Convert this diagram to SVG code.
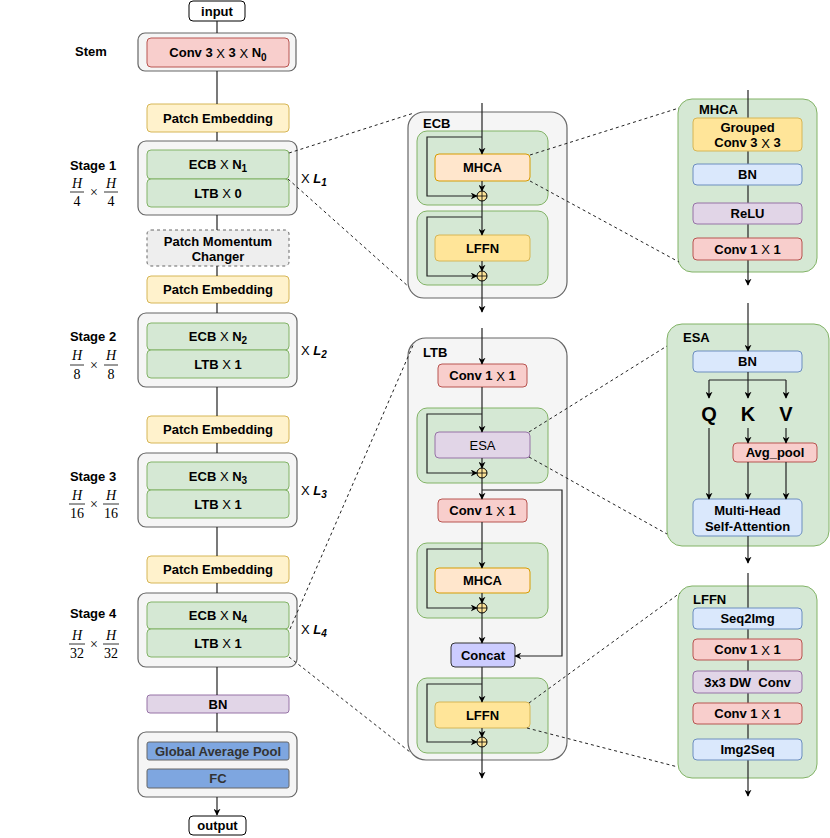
<svg xmlns="http://www.w3.org/2000/svg" width="830" height="838" viewBox="0 0 830 838">
<defs>
<marker id="arr" viewBox="0 0 10 10" refX="9" refY="5" markerWidth="7" markerHeight="7" orient="auto" markerUnits="userSpaceOnUse">
<path d="M0,0 L10,5 L0,10 L3,5 z" fill="#000"/>
</marker>
<style>
text{font-family:"Liberation Sans",Arial,sans-serif;font-size:13px;font-weight:bold;fill:#000;dominant-baseline:central}
.c{text-anchor:middle}
.n{font-weight:normal}
.sub{font-size:10px}
.big{font-size:20px}
.it{font-style:italic}
.outer{fill:#f5f5f5;stroke:#666;stroke-width:1.2}
.green{fill:#d5e8d4;stroke:#82b366;stroke-width:1}
.red{fill:#f8cecc;stroke:#b85450;stroke-width:1}
.pe{fill:#fff2cc;stroke:#d6b656;stroke-width:1}
.yel{fill:#ffe599;stroke:#d6b656;stroke-width:1}
.pur{fill:#e1d5e7;stroke:#9673a6;stroke-width:1}
.blu{fill:#dae8fc;stroke:#6c8ebf;stroke-width:1}
.dblu{fill:#7ea6e0;stroke:#666;stroke-width:1}
.org{fill:#ffe6cc;stroke:#d79b00;stroke-width:1}
.wht{fill:#fff;stroke:#000;stroke-width:1}
.ln{fill:none;stroke:#222;stroke-width:1.2}
.dash{fill:none;stroke:#222;stroke-width:1;stroke-dasharray:3,3}
.fr{font-family:"Liberation Serif","Times New Roman",serif;font-weight:normal;font-size:14px}
.bar{stroke:#000;stroke-width:0.8}
.plus{fill:#ffe599;stroke:#000;stroke-width:1}
</style>
</defs>

<!-- left column -->
<g id="input"><rect class="wht" x="189" y="1" width="56" height="20" rx="4"/><text class="c" x="217" y="11">input</text></g>
<g id="stem">
<rect class="outer" x="138" y="33" width="158" height="38" rx="7"/>
<rect class="red" x="147" y="38" width="142" height="29" rx="4"/>
<text class="c" x="218" y="52.5">Conv 3 <tspan class="n">X</tspan> 3 <tspan class="n">X</tspan> N<tspan class="sub" dy="4">0</tspan></text>
<text class="c" x="91" y="51">Stem</text>
</g>
<g id="pe1"><rect class="pe" x="147" y="104" width="142" height="28" rx="4"/><text class="c" x="218" y="118">Patch Embedding</text></g>
<g id="stage1">
<rect class="outer" x="138" y="141" width="159" height="74" rx="8"/>
<rect class="green" x="147" y="150" width="142" height="29" rx="4"/>
<rect class="green" x="147" y="179" width="142" height="28" rx="4"/>
<text class="c" x="218" y="164">ECB <tspan class="n">X</tspan> N<tspan class="sub" dy="4">1</tspan></text>
<text class="c" x="218" y="193">LTB <tspan class="n">X</tspan> 0</text>
<text class="c" x="93" y="165">Stage 1</text>
<text class="c fr it" x="77" y="183">H</text><line class="bar" x1="70" y1="192" x2="84" y2="192"/><text class="c fr" x="77" y="201">4</text>
<text class="c fr" x="94" y="192">×</text>
<text class="c fr it" x="111" y="183">H</text><line class="bar" x1="104" y1="192" x2="118" y2="192"/><text class="c fr" x="111" y="201">4</text>
<text x="301" y="178"><tspan class="n">X</tspan> <tspan class="it">L</tspan><tspan class="it sub" dy="4">1</tspan></text>
</g>
<g id="pmc"><rect x="147" y="230" width="142" height="36" rx="4" fill="#eeeeee" stroke="#666" stroke-dasharray="3,3"/><text class="c" x="218" y="241">Patch Momentum</text><text class="c" x="218" y="256">Changer</text></g>
<g id="pe2"><rect class="pe" x="147" y="276" width="142" height="27" rx="4"/><text class="c" x="218" y="289.5">Patch Embedding</text></g>
<g id="stage2">
<rect class="outer" x="138" y="313" width="159" height="74" rx="8"/>
<rect class="green" x="147" y="323" width="142" height="27" rx="4"/>
<rect class="green" x="147" y="350" width="142" height="28" rx="4"/>
<text class="c" x="218" y="336">ECB <tspan class="n">X</tspan> N<tspan class="sub" dy="4">2</tspan></text>
<text class="c" x="218" y="364">LTB <tspan class="n">X</tspan> 1</text>
<text class="c" x="93" y="336">Stage 2</text>
<text class="c fr it" x="77" y="355">H</text><line class="bar" x1="70" y1="365" x2="84" y2="365"/><text class="c fr" x="77" y="374">8</text>
<text class="c fr" x="94" y="365">×</text>
<text class="c fr it" x="111" y="355">H</text><line class="bar" x1="104" y1="365" x2="118" y2="365"/><text class="c fr" x="111" y="374">8</text>
<text x="301" y="350"><tspan class="n">X</tspan> <tspan class="it">L</tspan><tspan class="it sub" dy="4">2</tspan></text>
</g>
<g id="pe3"><rect class="pe" x="147" y="416" width="142" height="27" rx="4"/><text class="c" x="218" y="429.5">Patch Embedding</text></g>
<g id="stage3">
<rect class="outer" x="138" y="453" width="159" height="74" rx="8"/>
<rect class="green" x="147" y="462" width="142" height="28" rx="4"/>
<rect class="green" x="147" y="490" width="142" height="28" rx="4"/>
<text class="c" x="218" y="476">ECB <tspan class="n">X</tspan> N<tspan class="sub" dy="4">3</tspan></text>
<text class="c" x="218" y="504">LTB <tspan class="n">X</tspan> 1</text>
<text class="c" x="93" y="476">Stage 3</text>
<text class="c fr it" x="77" y="495">H</text><line class="bar" x1="69" y1="504" x2="85" y2="504"/><text class="c fr" x="77" y="513">16</text>
<text class="c fr" x="94" y="504">×</text>
<text class="c fr it" x="111" y="495">H</text><line class="bar" x1="103" y1="504" x2="119" y2="504"/><text class="c fr" x="111" y="513">16</text>
<text x="301" y="490"><tspan class="n">X</tspan> <tspan class="it">L</tspan><tspan class="it sub" dy="4">3</tspan></text>
</g>
<g id="pe4"><rect class="pe" x="147" y="556" width="142" height="27" rx="4"/><text class="c" x="218" y="569.5">Patch Embedding</text></g>
<g id="stage4">
<rect class="outer" x="138" y="593" width="159" height="74" rx="8"/>
<rect class="green" x="147" y="602" width="142" height="27" rx="4"/>
<rect class="green" x="147" y="629" width="142" height="28" rx="4"/>
<text class="c" x="218" y="615">ECB <tspan class="n">X</tspan> N<tspan class="sub" dy="4">4</tspan></text>
<text class="c" x="218" y="643">LTB <tspan class="n">X</tspan> 1</text>
<text class="c" x="93" y="613">Stage 4</text>
<text class="c fr it" x="77" y="635">H</text><line class="bar" x1="69" y1="644" x2="85" y2="644"/><text class="c fr" x="77" y="653">32</text>
<text class="c fr" x="94" y="644">×</text>
<text class="c fr it" x="111" y="635">H</text><line class="bar" x1="103" y1="644" x2="119" y2="644"/><text class="c fr" x="111" y="653">32</text>
<text x="301" y="629"><tspan class="n">X</tspan> <tspan class="it">L</tspan><tspan class="it sub" dy="4">4</tspan></text>
</g>
<g id="bn"><rect class="pur" x="147" y="695" width="142" height="18" rx="3"/><text class="c" x="218" y="704">BN</text></g>
<g id="head">
<rect class="outer" x="138" y="732" width="159" height="65" rx="8"/>
<rect class="dblu" x="147" y="742" width="142" height="18" rx="2"/>
<text class="c" x="218" y="751" style="fill:#333">Global Average Pool</text>
<rect class="dblu" x="147" y="769" width="142" height="19" rx="2"/>
<text class="c" x="218" y="778.5" style="fill:#333">FC</text>
</g>
<g id="output"><rect class="wht" x="189" y="816" width="57" height="19" rx="4"/><text class="c" x="217.5" y="825.5">output</text></g>

<!-- ECB -->
<g id="ecb">
<rect class="outer" x="408" y="112" width="159" height="186" rx="16"/>
<text x="423" y="123">ECB</text>
<rect class="green" x="417" y="131" width="131" height="74" rx="10"/>
<rect class="green" x="417" y="211" width="131" height="74" rx="10"/>
<rect class="org" x="435" y="154" width="95" height="27" rx="4"/>
<text class="c" x="482.5" y="167.5">MHCA</text>
<rect class="yel" x="435" y="235" width="95" height="26" rx="4"/>
<text class="c" x="482.5" y="248">LFFN</text>
</g>

<!-- LTB -->
<g id="ltb">
<rect class="outer" x="408" y="338" width="159" height="422" rx="18"/>
<text x="423" y="352">LTB</text>
<rect class="red" x="438" y="364" width="89" height="23" rx="4"/>
<text class="c" x="482.5" y="375.5">Conv 1 <tspan class="n">X</tspan> 1</text>
<rect class="green" x="417" y="408" width="131" height="75" rx="10"/>
<rect class="pur" x="435" y="432" width="95" height="26" rx="4"/>
<text class="c n" x="482.5" y="445">ESA</text>
<rect class="red" x="438" y="499" width="89" height="23" rx="4"/>
<text class="c" x="482.5" y="510.5">Conv 1 <tspan class="n">X</tspan> 1</text>
<rect class="green" x="417" y="543" width="131" height="75" rx="10"/>
<rect class="org" x="435" y="568" width="95" height="25" rx="4"/>
<text class="c" x="482.5" y="580.5">MHCA</text>
<rect x="451" y="643" width="64" height="24" rx="4" fill="#ccccff" stroke="#333" stroke-width="1"/>
<text class="c" x="483" y="655">Concat</text>
<rect class="green" x="417" y="678" width="131" height="75" rx="10"/>
<rect class="yel" x="435" y="702" width="95" height="26" rx="4"/>
<text class="c" x="482.5" y="715">LFFN</text>
</g>

<!-- MHCA detail -->
<g id="mhca">
<rect class="green" x="678" y="99" width="139" height="173" rx="14"/>
<line class="ln" x1="748" y1="99" x2="748" y2="272"/>
<text x="699" y="109">MHCA</text>
<rect class="yel" x="693" y="118" width="109" height="33" rx="4"/>
<text class="c" x="747.5" y="127.5">Grouped</text>
<text class="c" x="747.5" y="142.5">Conv 3 <tspan class="n">X</tspan> 3</text>
<rect class="blu" x="693" y="164" width="109" height="21" rx="4"/>
<text class="c" x="747.5" y="174.5">BN</text>
<rect class="pur" x="693" y="203" width="109" height="21" rx="4"/>
<text class="c" x="747.5" y="213.5">ReLU</text>
<rect class="red" x="693" y="238" width="109" height="22" rx="4"/>
<text class="c" x="747.5" y="249">Conv 1 <tspan class="n">X</tspan> 1</text>
</g>

<!-- ESA detail -->
<g id="esa">
<rect class="green" x="667" y="324" width="162" height="222" rx="15"/>
<text x="683" y="337">ESA</text>
<rect class="blu" x="693" y="351" width="109" height="21" rx="4"/>
<text class="c" x="747.5" y="361.5">BN</text>
<text class="c big" x="709" y="414">Q</text>
<text class="c big" x="748" y="414">K</text>
<text class="c big" x="786" y="414">V</text>
<rect class="red" x="733" y="443" width="84" height="19" rx="4"/>
<text class="c" x="775" y="452.5">Avg_pool</text>
<rect class="blu" x="693" y="499" width="109" height="37" rx="5"/>
<text class="c" x="747.5" y="510">Multi-Head</text>
<text class="c" x="747.5" y="526">Self-Attention</text>
</g>

<!-- LFFN detail -->
<g id="lffn">
<rect class="green" x="678" y="586" width="139" height="192" rx="14"/>
<line class="ln" x1="748" y1="586" x2="748" y2="778"/>
<text x="693" y="599">LFFN</text>
<rect class="blu" x="693" y="608" width="109" height="21" rx="4"/>
<text class="c" x="747.5" y="618.5">Seq2Img</text>
<rect class="red" x="693" y="639" width="109" height="21" rx="4"/>
<text class="c" x="747.5" y="649.5">Conv 1 <tspan class="n">X</tspan> 1</text>
<rect class="pur" x="693" y="671" width="109" height="22" rx="4"/>
<text class="c" x="747.5" y="682" xml:space="preserve">3x3 DW  Conv</text>
<rect class="red" x="693" y="703" width="109" height="21" rx="4"/>
<text class="c" x="747.5" y="713.5">Conv 1 <tspan class="n">X</tspan> 1</text>
<rect class="blu" x="693" y="739" width="109" height="21" rx="4"/>
<text class="c" x="747.5" y="749.5">Img2Seq</text>
</g>

<!-- connectors -->
<g id="connectors">
<!-- left column trunk -->
<path class="ln" d="M217,21 V33 M217,71 V104 M217,132 V141 M217,215 V230 M217,266 V276 M217,303 V313 M217,387 V416 M217,443 V453 M217,527 V556 M217,583 V593 M217,667 V695 M217,713 V732"/>
<line class="ln" x1="217" y1="797" x2="217" y2="815" marker-end="url(#arr)"/>
<!-- ECB internals -->
<line class="ln" x1="482" y1="103" x2="482" y2="154" marker-end="url(#arr)"/>
<line class="ln" x1="482" y1="181" x2="482" y2="191" marker-end="url(#arr)"/>
<polyline class="ln" points="482,137 427,137 427,196 477,196" marker-end="url(#arr)"/>
<line class="ln" x1="482" y1="201" x2="482" y2="235" marker-end="url(#arr)"/>
<polyline class="ln" points="482,217 427,217 427,276 477,276" marker-end="url(#arr)"/>
<line class="ln" x1="482" y1="261" x2="482" y2="271" marker-end="url(#arr)"/>
<line class="ln" x1="482" y1="281" x2="482" y2="312" marker-end="url(#arr)"/>
<!-- LTB internals -->
<line class="ln" x1="482" y1="328" x2="482" y2="364" marker-end="url(#arr)"/>
<line class="ln" x1="482" y1="387" x2="482" y2="432" marker-end="url(#arr)"/>
<polyline class="ln" points="482,414 427,414 427,473 477,473" marker-end="url(#arr)"/>
<line class="ln" x1="482" y1="458" x2="482" y2="468" marker-end="url(#arr)"/>
<line class="ln" x1="482" y1="478" x2="482" y2="499" marker-end="url(#arr)"/>
<polyline class="ln" points="482,490 562,490 562,656 515,656" marker-end="url(#arr)"/>
<line class="ln" x1="482" y1="522" x2="482" y2="568" marker-end="url(#arr)"/>
<polyline class="ln" points="482,549 427,549 427,608 477,608" marker-end="url(#arr)"/>
<line class="ln" x1="482" y1="593" x2="482" y2="603" marker-end="url(#arr)"/>
<line class="ln" x1="482" y1="613" x2="482" y2="643" marker-end="url(#arr)"/>
<line class="ln" x1="482" y1="667" x2="482" y2="702" marker-end="url(#arr)"/>
<polyline class="ln" points="482,684 427,684 427,742 477,742" marker-end="url(#arr)"/>
<line class="ln" x1="482" y1="728" x2="482" y2="737" marker-end="url(#arr)"/>
<line class="ln" x1="482" y1="747" x2="482" y2="778" marker-end="url(#arr)"/>
<!-- right column -->
<line class="ln" x1="748" y1="90" x2="748" y2="99"/>
<line class="ln" x1="748" y1="272" x2="748" y2="285" marker-end="url(#arr)"/>
<line class="ln" x1="748" y1="303" x2="748" y2="351" marker-end="url(#arr)"/>
<line class="ln" x1="748" y1="372" x2="748" y2="380"/>
<line class="ln" x1="709" y1="380" x2="786" y2="380"/>
<line class="ln" x1="709" y1="380" x2="709" y2="398" marker-end="url(#arr)"/>
<line class="ln" x1="748" y1="380" x2="748" y2="398" marker-end="url(#arr)"/>
<line class="ln" x1="786" y1="380" x2="786" y2="398" marker-end="url(#arr)"/>
<line class="ln" x1="709" y1="428" x2="709" y2="499" marker-end="url(#arr)"/>
<line class="ln" x1="748" y1="428" x2="748" y2="443" marker-end="url(#arr)"/>
<line class="ln" x1="786" y1="428" x2="786" y2="443" marker-end="url(#arr)"/>
<line class="ln" x1="748" y1="462" x2="748" y2="499" marker-end="url(#arr)"/>
<line class="ln" x1="786" y1="462" x2="786" y2="499" marker-end="url(#arr)"/>
<line class="ln" x1="748" y1="536" x2="748" y2="563" marker-end="url(#arr)"/>
<line class="ln" x1="748" y1="573" x2="748" y2="586"/>
<line class="ln" x1="748" y1="778" x2="748" y2="796" marker-end="url(#arr)"/>
<!-- dashed zoom lines -->
<line class="dash" x1="289" y1="153" x2="414" y2="113"/>
<line class="dash" x1="288" y1="179" x2="409" y2="287"/>
<line class="dash" x1="530" y1="155" x2="679" y2="108"/>
<line class="dash" x1="530" y1="181" x2="679" y2="262"/>
<line class="dash" x1="290" y1="629" x2="414" y2="343"/>
<line class="dash" x1="289" y1="657" x2="410" y2="752"/>
<line class="dash" x1="529" y1="432" x2="667" y2="346"/>
<line class="dash" x1="529" y1="457" x2="667" y2="534"/>
<line class="dash" x1="529" y1="703" x2="680" y2="593"/>
<line class="dash" x1="527" y1="728" x2="678" y2="767"/>
</g>

<!-- plus circles -->
<g id="adds">
<g><circle class="plus" cx="482" cy="196" r="5"/><path d="M477,196 h10 M482,191 v10" stroke="#000" stroke-width="0.8"/></g>
<g><circle class="plus" cx="482" cy="276" r="5"/><path d="M477,276 h10 M482,271 v10" stroke="#000" stroke-width="0.8"/></g>
<g><circle class="plus" cx="482" cy="473" r="5"/><path d="M477,473 h10 M482,468 v10" stroke="#000" stroke-width="0.8"/></g>
<g><circle class="plus" cx="482" cy="608" r="5"/><path d="M477,608 h10 M482,603 v10" stroke="#000" stroke-width="0.8"/></g>
<g><circle class="plus" cx="482" cy="742" r="5"/><path d="M477,742 h10 M482,737 v10" stroke="#000" stroke-width="0.8"/></g>
</g>
</svg>
